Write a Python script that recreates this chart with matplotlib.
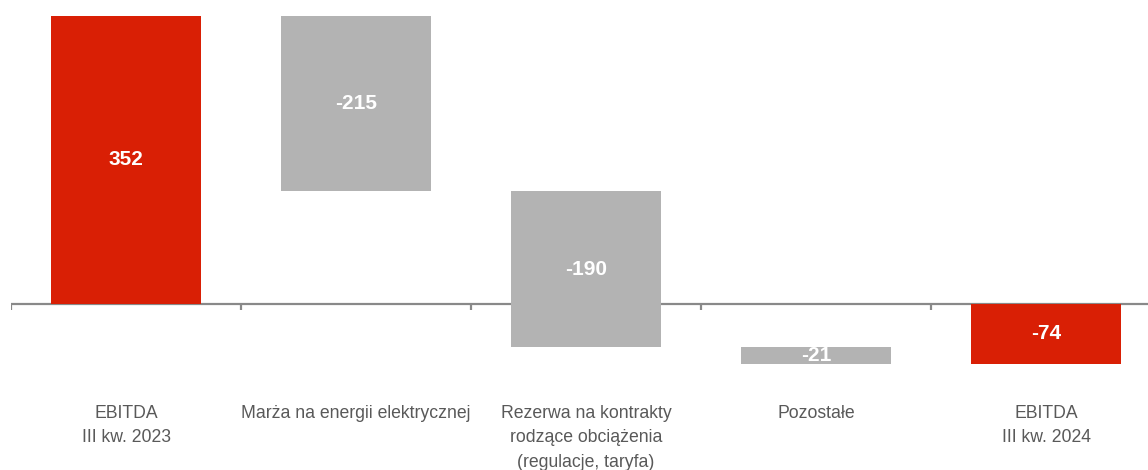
import matplotlib
matplotlib.use("Agg")
import matplotlib.pyplot as plt
from matplotlib import font_manager

categories = [
    "EBITDA\nIII kw. 2023",
    "Marża na energii elektrycznej",
    "Rezerwa na kontrakty\nrodzące obciążenia\n(regulacje, taryfa)",
    "Pozostałe",
    "EBITDA\nIII kw. 2024",
]
changes = [352, -215, -190, -21, -74]
is_total = [True, False, False, False, True]

RED = "#D91F05"
GREY = "#B3B3B3"
TEXT = "#595959"
AXIS = "#898989"

names = {f.name for f in font_manager.fontManager.ttflist}
family = [f for f in ["Liberation Sans Narrow", "Liberation Sans", "DejaVu Sans"] if f in names]
plt.rcParams["font.family"] = family

fig = plt.figure(figsize=(11.48, 4.70), dpi=100)
ax = fig.add_axes([11 / 1148, 0, 1137 / 1148, 1])

# waterfall: totals start at zero, changes float from the running total
running = 0
for i, (v, tot) in enumerate(zip(changes, is_total)):
    if tot:
        base = 0
        running = v
    else:
        base = running
        running = running + v
    ax.bar(i, v, bottom=base, width=0.652, color=RED if tot else GREY, zorder=2)
    ax.text(i, base + v / 2, f"{v}", ha="center", va="center", color="white",
            fontsize=15, fontweight="bold", zorder=3)

ax.set_xlim(-0.5, -0.5 + 1137 / 230)
ax.set_ylim(-203.5, 371)

for s in ax.spines.values():
    s.set_visible(False)
ax.axhline(0, color=AXIS, lw=1.6, zorder=1)
ax.set_yticks([])
ax.set_xticks([])

# boundary ticks hanging from the zero line
for b in [i - 0.5 for i in range(len(categories))]:
    ax.plot([b, b], [0, -7.5], color=AXIS, lw=1.6, zorder=1, solid_capstyle="butt")

# category labels below the axis
for i, lab in enumerate(categories):
    ax.text(i, -124, lab, ha="center", va="top", color=TEXT,
            fontsize=12.7, linespacing=1.56)

fig.savefig("out.png", dpi=100)
